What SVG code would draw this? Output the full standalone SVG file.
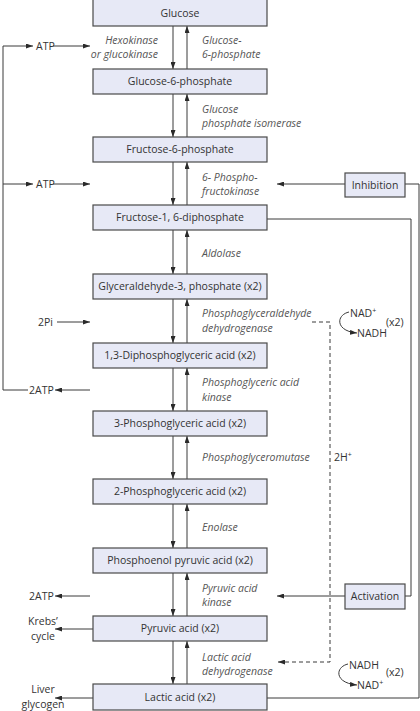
<svg xmlns="http://www.w3.org/2000/svg" width="420" height="711" viewBox="0 0 420 711">
<style>
.box{fill:#e7e9f6;stroke:#4a4a4a;stroke-width:1.2}
.t{font-family:"Open Sans","Noto Sans",sans-serif;font-size:10.5px;fill:#333}
.c{text-anchor:middle}
.e{font-family:"Open Sans","Noto Sans",sans-serif;font-size:10.5px;font-style:italic;fill:#555}
.ln{fill:none;stroke:#3a3a3a;stroke-width:1}
.ar{fill:none;stroke:#3a3a3a;stroke-width:1;marker-end:url(#ah)}
.da{fill:none;stroke:#3a3a3a;stroke-width:1;stroke-dasharray:4 3;marker-end:url(#ah)}
.sup{font-size:7px}
</style>
<defs>
<marker id="ah" viewBox="0 0 7 5" refX="7" refY="2.5" markerWidth="7" markerHeight="5" markerUnits="userSpaceOnUse" orient="auto">
<path d="M0,0 L7,2.5 L0,5 z" fill="#2a2a2a"/>
</marker>
</defs>
<g id="connectors">
<!-- main pathway arrows -->
<path class="ar" d="M173,26 V69"/><path class="ar" d="M187,69 V26"/>
<path class="ar" d="M173,94 V137"/><path class="ar" d="M187,137 V94"/>
<path class="ar" d="M173,162 V205"/><path class="ar" d="M187,205 V162"/>
<path class="ar" d="M173,230 V274"/><path class="ar" d="M187,274 V230"/>
<path class="ar" d="M173,299 V343"/><path class="ar" d="M187,343 V299"/>
<path class="ar" d="M173,368 V411"/><path class="ar" d="M187,411 V368"/>
<path class="ar" d="M173,436 V479"/><path class="ar" d="M187,479 V436"/>
<path class="ar" d="M173,504 V548"/><path class="ar" d="M187,548 V504"/>
<path class="ar" d="M173,573 V616"/><path class="ar" d="M187,616 V573"/>
<path class="ar" d="M173,641 V684"/><path class="ar" d="M187,684 V641"/>
<!-- ATP loop -->
<path class="ln" d="M28,390 H3 V46"/>
<path class="ar" d="M3,46 H33"/>
<path class="ar" d="M53,46 H90"/>
<path class="ar" d="M3,184 H33"/>
<path class="ar" d="M53,184 H90"/>
<path class="ar" d="M57,322 H90"/>
<path class="ar" d="M90,390 H55"/>
<path class="ar" d="M90,596 H55"/>
<path class="ar" d="M93,629 H55"/>
<path class="ar" d="M93,698 H55"/>
<!-- regulation -->
<path class="ar" d="M345,184 H277"/>
<path class="ln" d="M405,184 H419 V698 H267"/>
<path class="ln" d="M267,219 H411 V596 H405"/>
<path class="ar" d="M345,596 H277"/>
<path class="da" d="M312,322 H330 V662 H278"/>
<!-- NAD curves -->
<path class="ar" d="M349,312 C336,315 335,331 357,333"/>
<path class="ar" d="M348,664 C335,667 334,683 357,685"/>
</g>
<g id="glucose"><rect class="box" x="93" y="-1" width="174" height="27"/><text class="t c" x="180" y="17">Glucose</text></g>
<g id="g6p"><rect class="box" x="93" y="69" width="174" height="25"/><text class="t c" x="180" y="85">Glucose-6-phosphate</text></g>
<g id="f6p"><rect class="box" x="93" y="137" width="174" height="25"/><text class="t c" x="180" y="153">Fructose-6-phosphate</text></g>
<g id="f16dp"><rect class="box" x="93" y="205" width="174" height="25"/><text class="t c" x="180" y="221">Fructose-1, 6-diphosphate</text></g>
<g id="g3p"><rect class="box" x="93" y="274" width="174" height="25"/><text class="t c" x="180" y="290">Glyceraldehyde-3, phosphate (x2)</text></g>
<g id="dpg13"><rect class="box" x="93" y="343" width="174" height="25"/><text class="t c" x="180" y="359">1,3-Diphosphoglyceric acid (x2)</text></g>
<g id="pg3"><rect class="box" x="93" y="411" width="174" height="25"/><text class="t c" x="180" y="427">3-Phosphoglyceric acid (x2)</text></g>
<g id="pg2"><rect class="box" x="93" y="479" width="174" height="25"/><text class="t c" x="180" y="495">2-Phosphoglyceric acid (x2)</text></g>
<g id="pep"><rect class="box" x="93" y="548" width="174" height="25"/><text class="t c" x="180" y="564">Phosphoenol pyruvic acid (x2)</text></g>
<g id="pyruvate"><rect class="box" x="93" y="616" width="174" height="25"/><text class="t c" x="180" y="632">Pyruvic acid (x2)</text></g>
<g id="lactate"><rect class="box" x="93" y="684" width="174" height="26"/><text class="t c" x="180" y="701">Lactic acid (x2)</text></g>
<g id="inhibition"><rect class="box" x="345" y="173" width="60" height="24"/><text class="t c" x="375" y="189">Inhibition</text></g>
<g id="activation"><rect class="box" x="345" y="584" width="60" height="25"/><text class="t c" x="375" y="600">Activation</text></g>
<g id="enzymes">
<text class="e" x="158" y="44" text-anchor="end">Hexokinase</text>
<text class="e" x="158" y="58" text-anchor="end">or glucokinase</text>
<text class="e" x="202" y="44">Glucose-</text>
<text class="e" x="202" y="58">6-phosphate</text>
<text class="e" x="202" y="113">Glucose</text>
<text class="e" x="202" y="127">phosphate isomerase</text>
<text class="e" x="202" y="181">6- Phospho-</text>
<text class="e" x="202" y="195">fructokinase</text>
<text class="e" x="202" y="257">Aldolase</text>
<text class="e" x="202" y="317">Phosphoglyceraldehyde</text>
<text class="e" x="202" y="332">dehydrogenase</text>
<text class="e" x="202" y="386">Phosphoglyceric acid</text>
<text class="e" x="202" y="401">kinase</text>
<text class="e" x="202" y="461">Phosphoglyceromutase</text>
<text class="e" x="202" y="531">Enolase</text>
<text class="e" x="202" y="592">Pyruvic acid</text>
<text class="e" x="202" y="606">kinase</text>
<text class="e" x="202" y="661">Lactic acid</text>
<text class="e" x="202" y="675">dehydrogenase</text>
</g>
<g id="side-labels">
<text class="t" x="36" y="50">ATP</text>
<text class="t" x="36" y="188">ATP</text>
<text class="t" x="38" y="326">2Pi</text>
<text class="t" x="29" y="394">2ATP</text>
<text class="t" x="29" y="600">2ATP</text>
<text class="t c" x="43" y="625">Krebs’</text>
<text class="t c" x="43" y="640">cycle</text>
<text class="t c" x="43" y="693">Liver</text>
<text class="t c" x="43" y="708">glycogen</text>
<text class="t" x="334" y="461">2H<tspan class="sup" dy="-4">+</tspan></text>
<text class="t" x="350" y="317">NAD<tspan class="sup" dy="-4">+</tspan></text>
<text class="t" x="357" y="337">NADH</text>
<text class="t" x="386" y="326">(x2)</text>
<text class="t" x="349" y="669">NADH</text>
<text class="t" x="357" y="689">NAD<tspan class="sup" dy="-4">+</tspan></text>
<text class="t" x="386" y="676">(x2)</text>
</g>
</svg>
